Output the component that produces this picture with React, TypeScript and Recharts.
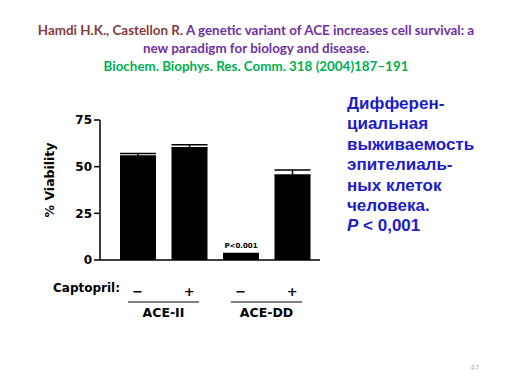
import { BarChart, Bar, XAxis, YAxis, ErrorBar, LabelList } from "recharts";

const categories = ["ACE-II −", "ACE-II +", "ACE-DD −", "ACE-DD +"];
const captopril = ["−", "+", "−", "+"];
const groups = ["ACE-II", "ACE-II", "ACE-DD", "ACE-DD"];
const viability = [55.7, 60.2, 3.0, 45.5];
const sem = [1.4, 1.6, 0.5, 2.7];
const notes = ["", "", "P<0.001", ""];
const yTicks = [0, 25, 50, 75];

const sideText = [
  "Дифферен-",
  "циальная",
  "выживаемость",
  "эпителиаль-",
  "ных клеток",
  "человека.",
];

const data = categories.map((name, i) => ({
  name,
  v: viability[i],
  err: [0, sem[i]],
  note: notes[i],
}));

const HALF_BAND = 25.75;
const AXIS_FONT = "'DejaVu Sans', Verdana, sans-serif";

function GroupTick(props: any) {
  const { x, y, payload } = props;
  const i = payload.index;
  const first = i === 0 || groups[i] !== groups[i - 1];
  const cx = x + HALF_BAND;
  return (
    <g>
      <text
        x={x}
        y={y + 36}
        textAnchor="middle"
        fontFamily={AXIS_FONT}
        fontWeight="bold"
        fontSize={13}
        fill="#000"
      >
        {captopril[i]}
      </text>
      {first && (
        <g>
          <line x1={cx - 35.5} x2={cx + 35.5} y1={y + 42} y2={y + 42} stroke="#000" strokeWidth={1.2} />
          <text
            x={cx}
            y={y + 57}
            textAnchor="middle"
            fontFamily={AXIS_FONT}
            fontWeight="bold"
            fontSize={12.5}
            fill="#000"
          >
            {groups[i]}
          </text>
        </g>
      )}
    </g>
  );
}

export default function App() {
  return (
    <div
      style={{
        position: "absolute",
        left: 0,
        top: 0,
        width: 512,
        height: 384,
        background: "#fff",
        overflow: "hidden",
      }}
    >
      <div
        style={{
          position: "absolute",
          top: 21,
          left: 0,
          width: 512,
          textAlign: "center",
          fontFamily: "Lato, 'Open Sans', sans-serif",
          fontWeight: 700,
          fontSize: 13.4,
          lineHeight: "18px",
        }}
      >
        <div>
          <span style={{ color: "#843c3c" }}>Hamdi H.K., Castellon R. </span>
          <span style={{ color: "#7030a0" }}>
            A genetic variant of ACE increases cell survival: a
          </span>
        </div>
        <div style={{ color: "#7030a0" }}>new paradigm for biology and disease.</div>
        <div style={{ color: "#00b050" }}>Biochem. Biophys. Res. Comm. 318 (2004)187–191</div>
      </div>

      <BarChart
        width={512}
        height={384}
        data={data}
        margin={{ top: 120, right: 192, bottom: 64, left: 40 }}
        barSize={36}
        style={{ position: "absolute", left: 0, top: 0 }}
      >
        <XAxis
          dataKey="name"
          height={60}
          padding={{ left: 12, right: 2 }}
          axisLine={{ stroke: "#000", strokeWidth: 1.5 }}
          tickLine={false}
          tickSize={0}
          tickMargin={0}
          tick={<GroupTick />}
          interval={0}
        />
        <YAxis
          width={60}
          domain={[0, 75]}
          ticks={yTicks}
          axisLine={{ stroke: "#000", strokeWidth: 1.5 }}
          tickLine={{ stroke: "#000", strokeWidth: 1.5 }}
          tickSize={6}
          tickMargin={2}
          tick={{ fontFamily: AXIS_FONT, fontWeight: "bold", fontSize: 12, fill: "#000" }}
          label={{
            content: () => (
              <text
                transform="translate(54,180) rotate(-90)"
                textAnchor="middle"
                fontFamily={AXIS_FONT}
                fontWeight="bold"
                fontSize={12.5}
                fill="#000"
              >
                % Viability
              </text>
            ),
          }}
        />
        <Bar dataKey="v" fill="#000" isAnimationActive={false}>
          <ErrorBar dataKey="err" width={18} stroke="#000" strokeWidth={1.5} direction="y" />
          <LabelList
            dataKey="note"
            position="top"
            offset={6}
            fontFamily={AXIS_FONT}
            fontWeight="bold"
            fontSize={7}
            fill="#000"
          />
        </Bar>
      </BarChart>

      <div
        style={{
          position: "absolute",
          left: 53,
          top: 281,
          fontFamily: AXIS_FONT,
          fontWeight: "bold",
          fontSize: 12,
          color: "#000",
        }}
      >
        Captopril:
      </div>

      <div
        style={{
          position: "absolute",
          left: 347,
          top: 94,
          fontFamily: "'Liberation Sans', Arial, sans-serif",
          fontWeight: "bold",
          fontSize: 17,
          lineHeight: "20.4px",
          color: "#1c1cc8",
        }}
      >
        {sideText.map((t) => (
          <div key={t}>{t}</div>
        ))}
        <div>
          <i>P</i> &lt; 0,001
        </div>
      </div>

      <div
        style={{
          position: "absolute",
          left: 470,
          top: 361,
          fontFamily: "'Open Sans', sans-serif",
          fontSize: 8,
          color: "#b0b0b0",
        }}
      >
        47
      </div>
    </div>
  );
}
